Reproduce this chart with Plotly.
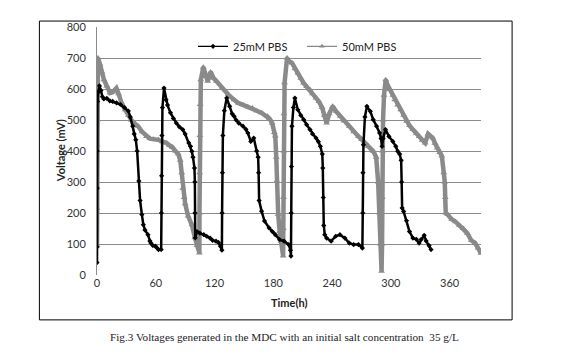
import plotly.graph_objects as go

# 25mM PBS (black) : time (h), voltage (mV)
t_25 = [0, 0, 0.2, 0.3, 0.5, 1.2, 2.5, 4, 5.5, 7, 10, 13, 16, 20, 24, 28, 32, 34, 36.5, 38, 39.6,
        41, 42.7, 44, 45.8, 47.3, 49, 52, 54, 55, 57, 59.7, 61, 62.8, 65.5,
        65.8, 66, 66.3, 66.8, 68.4, 70.5, 72, 75, 78, 81, 84, 87.5, 90, 93.7, 95.5, 96.8, 98, 99.5, 99.9,
        100, 100.3, 102, 105, 109, 112, 115.4, 118, 121.5, 124, 126, 127.5,
        127.7, 128, 128.5, 130, 132.4, 135.4, 138, 140, 142, 144.7, 149, 152, 154, 157, 160, 163, 164.5,
        165, 165.5, 168, 171, 175.7, 179, 182, 186.5, 191, 195.7, 197.5, 198,
        198.3, 198.5, 199, 200.5, 202, 205, 208, 211, 214, 217.4, 220, 223.6, 226, 228, 230,
        230.5, 231, 231.5, 232.5, 234.4, 239, 243.7, 248, 253, 257.6, 262, 266.9, 270.9,
        271.3, 271.5, 272, 273.5, 275.5, 279, 282, 285.4, 288.5, 290, 291, 292, 294.5, 298, 302, 305,
        307, 309, 310.5, 311, 311.5, 313, 316, 319, 322.5, 326, 328.8, 331, 334, 336, 339, 341]
v_25 = [40, 90, 280, 400, 560, 590, 610, 595, 575, 568, 570, 562, 560, 555, 550, 540, 529, 510, 480, 455, 436,
        400, 303, 240, 195, 162, 145, 130, 110, 103, 95, 93, 88, 82, 82,
        200, 320, 450, 540, 603, 565, 548, 523, 505, 490, 478, 469, 455, 426, 415, 399, 380, 345, 300,
        200, 120, 140, 135, 130, 125, 119, 112, 109, 105, 93, 80,
        200, 330, 450, 530, 571, 544, 520, 512, 500, 490, 480, 470, 458, 431, 442, 400, 380,
        330, 240, 206, 174, 152, 140, 130, 114, 109, 98, 80, 61,
        200, 350, 480, 540, 571, 533, 515, 501, 485, 469, 455, 442, 430, 415, 390,
        345, 250, 160, 130, 119, 109, 125, 130, 119, 103, 98, 98, 87,
        200, 330, 420, 510, 544, 528, 501, 480, 458, 440, 415, 440, 469, 447, 431, 415,
        399, 390, 370, 300, 216, 205, 175, 140, 119, 115, 103, 115, 128, 110, 95, 82]

# 50mM PBS (gray) : time (h), voltage (mV)
t_50 = [0, 0, 0.1, 0.2, 0.4, 1, 3, 5, 7.1, 10, 13.3, 16, 19.8, 22, 25, 28.8, 32, 35, 38, 42, 46,
        50.5, 54, 58, 62.8, 67, 71, 74, 77, 80, 83, 85, 86.5, 87.6, 89, 90, 93, 96.8, 100, 102, 104.5,
        104.6, 104.8, 105, 105.3, 106, 108.5, 111, 113, 116, 119, 122, 127.7, 134, 140, 144, 149, 154,
        158.6, 163, 168, 174, 176, 178.8, 181, 182, 183, 183.4, 185, 186.5, 188, 190,
        190.2, 190.4, 190.6, 190.8, 191.5, 194, 196, 199, 202, 205, 208, 211, 214, 217.4, 220, 223.6,
        226.5, 229.8, 232, 234.4, 237, 240.6, 244, 248.3, 252, 257.6, 262, 266.9, 270, 273, 277, 282,
        285, 287, 288.5, 289.5, 290.5, 291, 291.2, 291.5, 292, 293, 294.7, 297, 299, 302, 304, 307,
        310, 313, 316, 319, 322.5, 326, 328.8, 332, 335, 338, 340, 342.7, 345, 347.3, 350, 352, 354,
        355, 355.5, 356, 358, 362, 366, 370, 374, 378, 382, 386, 389, 392]
v_50 = [95, 215, 420, 500, 660, 700, 680, 655, 630, 610, 587, 590, 603, 585, 555, 533, 515, 500, 490, 480, 462,
        447, 440, 438, 436, 430, 426, 418, 412, 400, 390, 370, 330, 280, 250, 230, 190, 162, 120, 95, 71,
        200, 330, 450, 550, 630, 670, 640, 625, 655, 635, 625, 603, 582, 565, 555, 549, 543,
        539, 530, 523, 512, 505, 490, 460, 448, 380, 303, 195, 140, 109, 61,
        150, 250, 400, 520, 620, 700, 690, 684, 665, 652, 635, 619, 608, 598, 585, 571,
        560, 540, 515, 490, 520, 544, 528, 512, 497, 480, 462, 447, 438, 426, 415, 399,
        380, 300, 200, 100, 12, 100, 250, 400, 500, 580, 630, 610, 598, 580, 565, 548,
        533, 515, 496, 482, 469, 457, 447, 435, 426, 455, 450, 442, 425, 410, 395, 384, 330,
        300, 250, 200, 195, 180, 172, 160, 150, 135, 112, 103, 87, 70]

y_ticks = [0, 100, 200, 300, 400, 500, 600, 700, 800]
x_ticks = [0, 60, 120, 180, 240, 300, 360]
series_names = ["25mM PBS", "50mM PBS"]
caption = "Fig.3 Voltages generated in the MDC with an initial salt concentration  35 g/L"

BLACK = "#000000"
GRAY = "#8a8a8a"

fig = go.Figure()
fig.add_trace(go.Scatter(x=t_50, y=v_50, mode="lines+markers", showlegend=False,
                         line=dict(color=GRAY, width=4.5),
                         marker=dict(symbol="triangle-up", size=6, color=GRAY)))
fig.add_trace(go.Scatter(x=t_25, y=v_25, mode="lines+markers", showlegend=False,
                         line=dict(color=BLACK, width=2.5),
                         marker=dict(symbol="diamond", size=4, color=BLACK)))
# legend entries
fig.add_trace(go.Scatter(x=[None], y=[None], mode="lines+markers", name=series_names[0],
                         line=dict(color=BLACK, width=1.2),
                         marker=dict(symbol="diamond", size=4, color=BLACK)))
fig.add_trace(go.Scatter(x=[None], y=[None], mode="lines+markers", name=series_names[1],
                         line=dict(color=GRAY, width=1.2),
                         marker=dict(symbol="triangle-up", size=5, color=GRAY)))

tick_font = dict(family="Lato, Open Sans, sans-serif", size=11, color="#333333")

fig.update_layout(
    width=571, height=360,
    margin=dict(l=89, r=98, t=17, b=93),
    paper_bgcolor="white", plot_bgcolor="white",
    showlegend=True,
    legend=dict(orientation="h", x=0.25, y=0.922, xanchor="left", yanchor="middle",
                font=dict(family="Lato, Open Sans, sans-serif", size=11, color="#222222"),
                bgcolor="rgba(0,0,0,0)", itemwidth=30, entrywidth=64, entrywidthmode="pixels"),
    xaxis=dict(range=[0, 392], tickvals=x_ticks, ticktext=[str(v) for v in x_ticks],
               showgrid=False, zeroline=False, showline=False, ticks="",
               tickfont=tick_font, ticklabelstandoff=0),
    yaxis=dict(range=[0, 800], tickvals=y_ticks, ticktext=[str(v) for v in y_ticks],
               showgrid=True, gridcolor="#8c8c8c", gridwidth=1, zeroline=False,
               showline=True, linecolor="#8c8c8c", linewidth=1, ticks="",
               tickfont=tick_font, ticklabelstandoff=8),
    annotations=[
        dict(text="<b>Time(h)</b>", xref="paper", yref="paper", x=0.5, y=-0.11,
             xanchor="center", yanchor="middle", showarrow=False,
             font=dict(family="Lato, Open Sans, sans-serif", size=11, color="#222222")),
        dict(text="<b>Voltage (mV)</b>", xref="paper", yref="paper", x=-0.096, y=0.5,
             xanchor="center", yanchor="middle", textangle=-90, showarrow=False,
             font=dict(family="Lato, Open Sans, sans-serif", size=11, color="#222222")),
        dict(text=caption, xref="paper", yref="paper", x=0.487, y=-0.252,
             xanchor="center", yanchor="middle", showarrow=False,
             font=dict(family="Liberation Serif, serif", size=11.2, color="#222222")),
    ],
    shapes=[
        dict(type="rect", xref="paper", yref="paper", x0=-0.150, x1=1.081, y0=-0.181, y1=1.024,
             line=dict(color="black", width=1), fillcolor="rgba(0,0,0,0)", layer="below"),
    ],
)

fig.write_html("out.html")
